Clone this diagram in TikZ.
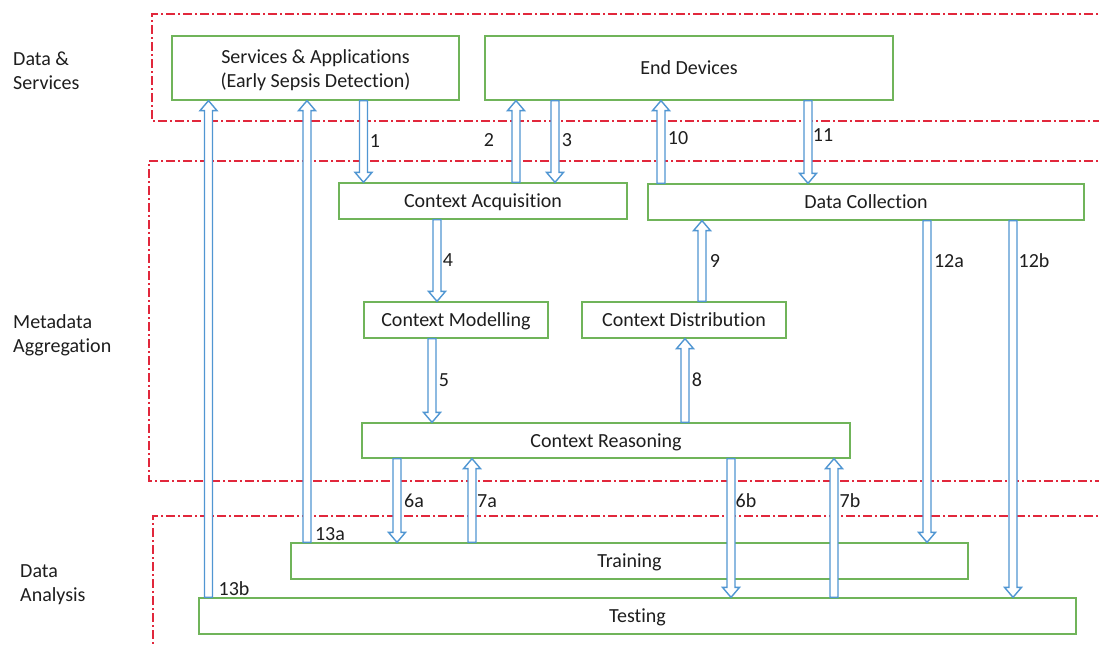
\documentclass[tikz,border=0pt]{standalone}
\usepackage{fontspec}
\setmainfont{Carlito}[Ligatures={NoCommon,NoRare,NoContextual}]
\usetikzlibrary{calc}
\definecolor{boxgreen}{RGB}{112,180,90}
\definecolor{arrblue}{RGB}{80,150,210}
\definecolor{zonered}{RGB}{225,40,60}
\definecolor{txt}{RGB}{30,30,30}
\newcommand\blockarrow[3]{%
  \draw[barr] let \p1=(#2), \p2=(#3), \n1={(\y2-\y1)/abs(\y2-\y1)} in
    ({(#1-4)*1pt},\y1) -- ({(#1-4)*1pt},{\y2-\n1*10pt}) -- ({(#1-8.5)*1pt},{\y2-\n1*10pt})
    -- ({#1*1pt},\y2) -- ({(#1+8.5)*1pt},{\y2-\n1*10pt}) -- ({(#1+4)*1pt},{\y2-\n1*10pt})
    -- ({(#1+4)*1pt},\y1) -- cycle;}
\begin{document}
\begin{tikzpicture}[x=1pt,y=-1pt,
  every node/.style={font=\fontsize{20}{24}\selectfont,text=txt},
  box/.style={draw=boxgreen,line width=1.3pt,fill=white,inner sep=0pt,align=center,text height=15pt,text depth=2pt},
  barr/.style={draw=arrblue,line width=1.4pt,fill=white,line join=miter},
  zone/.style={draw=zonered,line width=1.2pt,dash pattern=on 9pt off 3pt on 2pt off 3pt},
  lbl/.style={inner sep=0pt},
  side/.style={inner sep=0pt,align=left,anchor=west}]
\useasboundingbox (0,0) rectangle (1099,646);
\fill[white] (0,0) rectangle (1099,646);
% zones
\draw[zone] (1110,14) -- (152,14) -- (152,121) -- (1110,121);
\draw[zone] (1110,161) -- (149,161) -- (149,481) -- (1110,481);
\draw[zone] (1110,516) -- (153,516) -- (153,660);
% side labels
\node[side] (zds) at (13,71) {Data \&\\Services};
\node[side] (zma) at (13,335) {Metadata\\Aggregation};
\node[side] (zda) at (20,585) {Data\\Analysis};
% boxes
\node[box,text height=40pt,text depth=1pt,minimum width=287pt,minimum height=64pt] (sa) at (315.5,68) {Services \& Applications\\(Early Sepsis Detection)};
\node[box,minimum width=408pt,minimum height=64pt] (ed) at (689,68) {End Devices};
\node[box,minimum width=288pt,minimum height=36pt] (ca) at (483,201) {Context Acquisition};
\node[box,minimum width=436pt,minimum height=36pt] (dc) at (866,202) {Data Collection};
\node[box,minimum width=184pt,minimum height=36pt] (cm) at (456,320) {Context Modelling};
\node[box,minimum width=204pt,minimum height=36pt] (cd) at (684,320) {Context Distribution};
\node[box,minimum width=488pt,minimum height=35pt] (cr) at (606,440.5) {Context Reasoning};
\node[box,minimum width=677pt,minimum height=36pt] (tr) at (629.5,561) {Training};
\node[box,minimum width=877pt,minimum height=36pt] (te) at (637.5,616) {Testing};
% arrows
\blockarrow{208.5}{te.north}{sa.south}
\blockarrow{307}{tr.north}{sa.south}
\blockarrow{363.5}{sa.south}{ca.north}
\blockarrow{516}{ca.north}{ed.south}
\blockarrow{555}{ed.south}{ca.north}
\blockarrow{661}{dc.north}{ed.south}
\blockarrow{808}{ed.south}{dc.north}
\blockarrow{437}{ca.south}{cm.north}
\blockarrow{432}{cm.south}{cr.north}
\blockarrow{685}{cr.north}{cd.south}
\blockarrow{702}{cd.north}{dc.south}
\blockarrow{397}{cr.south}{tr.north}
\blockarrow{472}{tr.north}{cr.south}
\blockarrow{731}{cr.south}{te.north}
\blockarrow{834}{te.north}{cr.south}
\blockarrow{927}{dc.south}{tr.north}
\blockarrow{1013}{dc.south}{te.north}
% arrow labels
\node[lbl] (l1) at (375,141) {1};
\node[lbl] (l2) at (489,140) {2};
\node[lbl] (l3) at (567,140) {3};
\node[lbl] (l10) at (678,138) {10};
\node[lbl] (l11) at (823,135) {11};
\node[lbl] (l4) at (448,260) {4};
\node[lbl] (l5) at (444,380) {5};
\node[lbl] (l9) at (715,261) {9};
\node[lbl] (l8) at (697,380) {8};
\node[lbl] (l6a) at (414,501) {6a};
\node[lbl] (l7a) at (487,501) {7a};
\node[lbl] (l6b) at (746,501) {6b};
\node[lbl] (l7b) at (850,501) {7b};
\node[lbl] (l12a) at (949,261) {12a};
\node[lbl] (l12b) at (1034,261) {12b};
\node[lbl] (l13a) at (330,534) {13a};
\node[lbl] (l13b) at (234,589) {13b};
\end{tikzpicture}
\end{document}
